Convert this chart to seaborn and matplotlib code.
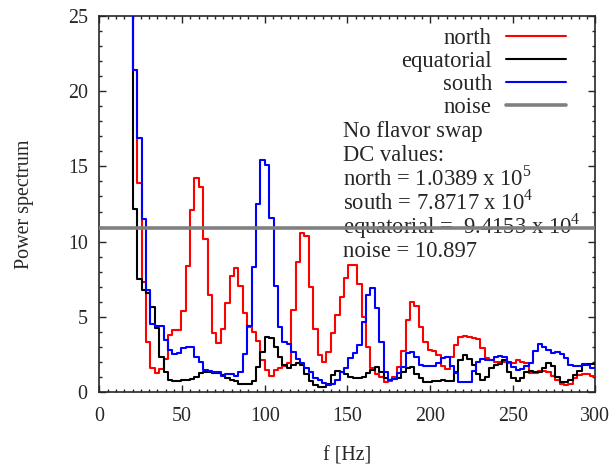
"""
Power spectrum of the three detector regions (no flavor swap), gnuplot-style steps
"""

import numpy as np
import matplotlib
matplotlib.use('Agg')
import matplotlib.pyplot as plt
import seaborn as sns
from matplotlib.ticker import MultipleLocator

sns.set_style('ticks')
plt.rcParams['font.family'] = ['Liberation Serif', 'DejaVu Serif']
plt.rcParams['mathtext.fontset'] = 'custom'
plt.rcParams['mathtext.rm'] = 'Liberation Serif'
plt.rcParams['font.size'] = 14.4

# FFT grid: first bin edge and bin width [Hz]
f_first = 17.44
f_step = 2.663

# power per bin (first bin is off the top of the plot)
north = [30, 21.4, 13.9, 7.3, 3.3, 1.6, 1.25, 1.55, 2.2, 3.8, 4.1, 4.1, 5.4, 8.4, 12.1,
         14.2, 13.6, 10.2, 6.45, 3.94, 3.28, 4.19, 5.94, 7.71, 8.22, 7.05, 5.23, 4.3, 4.0,
         3.41, 2.13, 1.46, 1.06, 1.46, 1.57, 1.7, 1.9, 5.45, 8.66, 10.6, 10.4, 7.0, 4.2,
         2.46, 2.0, 2.68, 3.9, 5.1, 6.3, 7.6, 8.44, 8.44, 7.2, 5.0, 3.0, 1.57, 1.2, 1.02,
         0.69, 0.75, 1.0, 1.64, 2.7, 4.8, 6.0, 5.7, 4.34, 3.34, 2.79, 2.7, 2.46, 1.73, 1.5,
         2.3, 3.12, 3.68, 3.7, 3.65, 3.6, 3.5, 2.9, 2.24, 2.1, 2.0, 2.0, 2.0, 1.9, 1.95,
         2.13, 2.0, 1.9, 1.28, 1.28, 1.42, 1.42, 1.35, 1.06, 0.8, 0.5, 0.47, 0.55, 0.9,
         1.1, 1.2, 1.2, 1.05]
equatorial = [30, 12.2, 7.5, 6.78, 6.56, 5.67, 4.23, 2.35, 1.35, 0.8, 0.76, 0.76, 0.78, 0.8,
              0.85, 1.0, 1.24, 1.35, 1.3, 1.24, 1.24, 1.1, 0.95, 0.8, 0.75, 0.55, 0.5, 0.5,
              0.75, 1.68, 2.68, 3.68, 3.6, 3.0, 2.35, 1.8, 1.57, 1.8, 1.95, 1.8, 1.2, 0.76,
              0.45, 0.35, 0.35, 0.5, 1.1, 1.42, 1.3, 1.2, 1.0, 0.91, 0.91, 1.0, 1.24, 1.45,
              1.68, 1.3, 0.95, 0.8, 0.85, 0.9, 1.3, 1.6, 1.68, 1.2, 0.9, 0.69, 0.69, 0.75,
              0.75, 0.78, 0.75, 0.75, 1.35, 2.1, 2.46, 2.2, 1.8, 1.2, 0.8, 1.0, 1.6, 1.8, 1.85,
              2.13, 1.35, 0.91, 0.75, 0.95, 1.35, 1.4, 1.35, 1.35, 1.57, 1.95, 1.7, 1.02,
              0.69, 0.65, 0.8, 1.13, 1.4, 1.79, 1.85, 1.85]
south = [40, 21.4, 16.9, 11.5, 6.8, 4.5, 4.4, 4.4, 3.46, 2.8, 2.5, 2.6, 2.9, 2.97, 2.97, 2.3,
         2.0, 1.46, 1.38, 1.35, 1.3, 1.05, 1.2, 1.2, 1.06, 1.35, 2.5, 4.4, 8.3, 12.5, 15.4,
         15.1, 11.55, 7.05, 4.3, 3.34, 3.2, 2.68, 2.2, 1.9, 1.57, 1.3, 0.9, 0.8, 0.6, 0.47,
         0.55, 0.8, 1.3, 1.57, 2.24, 2.57, 3.12, 4.67, 6.45, 6.9, 5.56, 3.34, 1.35, 0.8,
         0.85, 1.24, 1.68, 2.57, 2.65, 2.35, 1.8, 1.7, 1.7, 1.75, 1.9, 2.24, 2.3, 1.7, 1.24,
         0.69, 0.65, 0.69, 1.4, 2.0, 2.17, 2.1, 2.13, 2.3, 2.4, 2.3, 2.0, 1.68, 1.46, 1.5,
         1.7, 1.95, 2.75, 3.19, 3.0, 2.79, 2.61, 2.65, 2.55, 2.24, 1.8, 1.73, 1.75, 1.88,
         1.8, 1.6]
noise_level = 10.897

info_lines = ['No flavor swap',
              'DC values:',
              r'north = 1.0389 x 10$^5$',
              r'south = 7.8717 x 10$^4$',
              r'equatorial =  9.4153 x 10$^4$',
              'noise = 10.897']

series = [('north', north, '#ff0000'),
          ('equatorial', equatorial, '#000000'),
          ('south', south, '#0000ff')]

key_size = 16.3

fig = plt.figure(figsize=(6.16, 4.65), dpi=100)
ax = fig.add_axes([0.1615, 0.157, 0.805, 0.8085])

for name, vals, col in series:
    edges = f_first + f_step * np.arange(len(vals) + 1)
    sns.lineplot(x=edges, y=np.append(vals, vals[-1]), drawstyle='steps-post',
                 color=col, lw=1.5, label=name, ax=ax, errorbar=None, zorder=3)
ax.axhline(noise_level, color='#808080', lw=2.6, label='noise', zorder=5)

for i, line in enumerate(info_lines):
    ax.text(147.4, 16.97 - 1.605 * i, line, va='baseline', ha='left',
            fontsize=key_size, zorder=2)

ax.set_xlim(0, 300)
ax.set_ylim(0, 25)
ax.xaxis.set_major_locator(MultipleLocator(50))
ax.xaxis.set_minor_locator(MultipleLocator(5))
ax.yaxis.set_major_locator(MultipleLocator(5))
ax.yaxis.set_minor_locator(MultipleLocator(1))
ax.tick_params(which='both', direction='in', top=True, right=True, width=1.0)
ax.tick_params(axis='x', which='major', length=4.8, pad=10.5)
ax.tick_params(axis='y', which='major', length=4.8, pad=8.5)
ax.tick_params(which='minor', length=2.2)
for sp in ax.spines.values():
    sp.set_linewidth(1.2)

ax.set_xlabel('f [Hz]', labelpad=15)
ax.set_ylabel('Power spectrum', labelpad=24)

leg = ax.legend(loc='upper right', bbox_to_anchor=(0.9405, 0.968), markerfirst=False,
                frameon=False, fontsize=key_size, handlelength=2.65, handletextpad=0.62,
                labelspacing=0.08, borderpad=0, borderaxespad=0)

plt.savefig('out.png', dpi=100)
plt.close()
